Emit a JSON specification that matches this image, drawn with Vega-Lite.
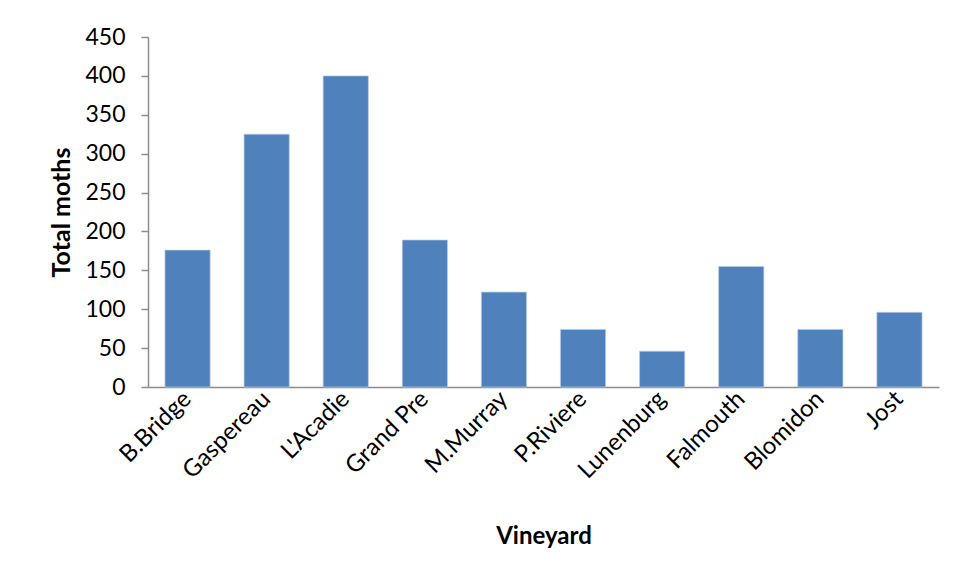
{
  "$schema": "https://vega.github.io/schema/vega-lite/v6.json",
  "autosize": "none",
  "width": 791,
  "height": 350,
  "padding": {"left": 148, "top": 37, "right": 19, "bottom": 192},
  "background": "white",
  "config": {
    "view": {"stroke": null},
    "font": "Lato",
    "axis": {"labelFont": "Lato", "titleFont": "Lato", "labelColor": "#000000", "titleColor": "#000000", "grid": false, "domainColor": "#8c8c8c", "tickColor": "#8c8c8c", "domainWidth": 1.5}
  },
  "data": {
    "values": [
      {"Vineyard": "B.Bridge", "moths": 176},
      {"Vineyard": "Gaspereau", "moths": 325},
      {"Vineyard": "L'Acadie", "moths": 400},
      {"Vineyard": "Grand Pre", "moths": 189},
      {"Vineyard": "M.Murray", "moths": 122},
      {"Vineyard": "P.Riviere", "moths": 74},
      {"Vineyard": "Lunenburg", "moths": 46},
      {"Vineyard": "Falmouth", "moths": 155},
      {"Vineyard": "Blomidon", "moths": 74},
      {"Vineyard": "Jost", "moths": 96}
    ]
  },
  "mark": {"type": "bar", "color": "#4f81bd", "stroke": "#b9cde5", "strokeWidth": 0.7},
  "encoding": {
    "x": {
      "field": "Vineyard",
      "type": "nominal",
      "sort": null,
      "scale": {"paddingInner": 0.4286, "paddingOuter": 0.2143},
      "axis": {
        "title": "Vineyard",
        "titleFontSize": 24,
        "titleFontWeight": "bold",
        "titlePadding": 42,
        "labelAngle": -45,
        "labelFontSize": 24,
        "labelPadding": 8,
        "ticks": false,
        "labelAlign": "right",
        "labelBaseline": "middle"
      }
    },
    "y": {
      "field": "moths",
      "type": "quantitative",
      "scale": {"domain": [0, 450], "nice": false},
      "axis": {
        "title": "Total moths",
        "titleFontSize": 25,
        "titleFontWeight": "bold",
        "titlePadding": 10,
        "values": [0, 50, 100, 150, 200, 250, 300, 350, 400, 450],
        "labelFontSize": 23,
        "labelPadding": 16,
        "tickSize": 7,
        "tickWidth": 1.5
      }
    }
  }
}
